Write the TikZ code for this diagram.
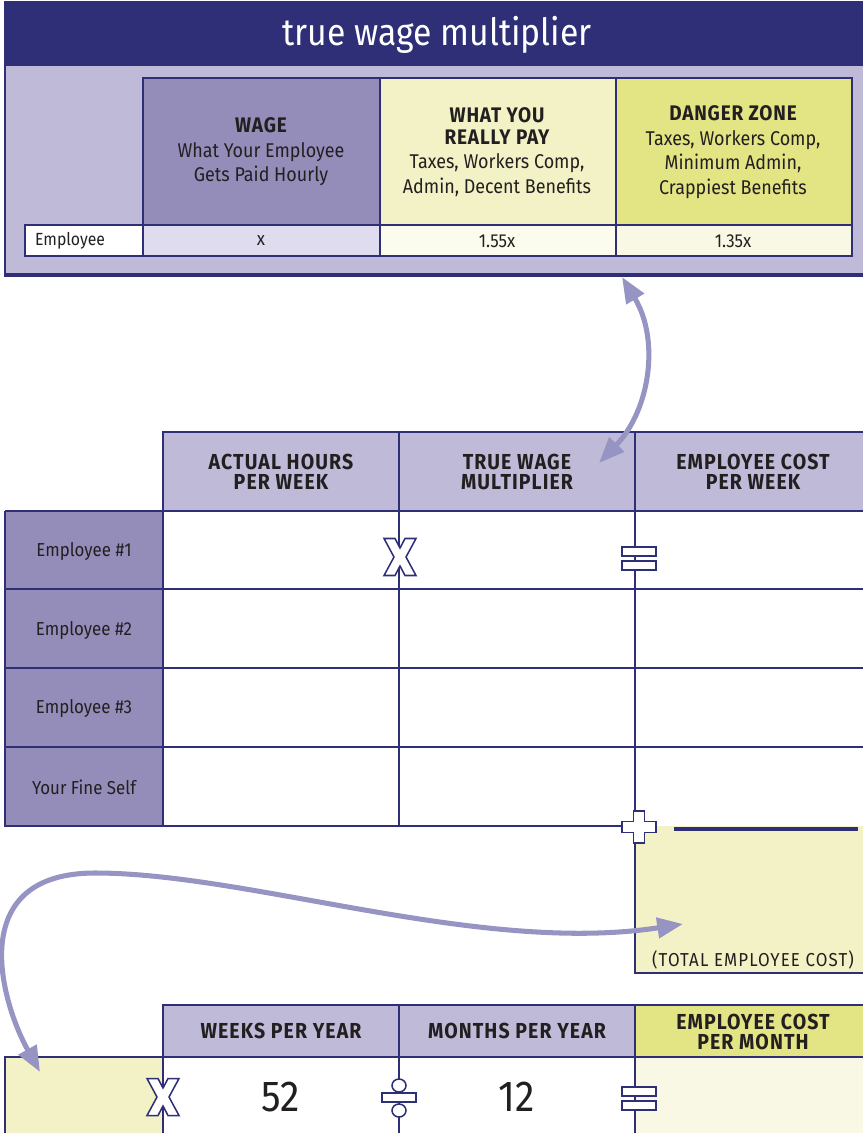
\documentclass[tikz,border=0pt]{standalone}
\usepackage{fontspec}
\setmainfont{Fira Sans}[FakeStretch=0.9]
\usetikzlibrary{arrows.meta}

\definecolor{navy}{RGB}{46,47,119}
\definecolor{lavlight}{RGB}{190,186,216}
\definecolor{purplemid}{RGB}{149,141,185}
\definecolor{lavpale}{RGB}{222,220,238}
\definecolor{yellowlight}{RGB}{242,242,198}
\definecolor{yellowgreen}{RGB}{227,228,132}
\definecolor{cream}{RGB}{252,252,238}
\definecolor{creamy}{RGB}{248,248,228}
\definecolor{ink}{RGB}{35,31,32}
\definecolor{linkc}{RGB}{150,148,194}
\newcommand{\boldhead}{\fontsize{18}{18}\addfontfeature{LetterSpace=4}\selectfont\bfseries}

\begin{document}
\begin{tikzpicture}[x=0.03cm, y=-0.03cm,
	grid/.style={draw=navy, line width=1.6pt},
	opsign/.style={fill=white, draw=navy, line width=1.3pt},
	link/.style={draw=linkc, line width=4.3pt,
		{Triangle[length=22pt,width=17pt]}-{Triangle[length=22pt,width=17pt]}},
	titletxt/.style={text=white, font=\fontsize{32}{34}\selectfont},
	toptxt/.style={text=ink, align=center, font=\fontsize{17}{21}\selectfont},
	headtxt/.style={text=ink, align=center, font=\fontsize{18.5}{17}\addfontfeature{LetterSpace=5}\selectfont\bfseries},
	rowtxt/.style={text=ink, font=\fontsize{16}{16}\selectfont},
	smalltxt/.style={text=ink, font=\fontsize{15}{16}\selectfont},
	numtxt/.style={text=ink, font=\fontsize{37}{38}\selectfont}]
	\useasboundingbox (0,0) rectangle (863,1133);
	%% top box
	\fill[lavlight] (5,4) rectangle (863,275);
	\fill[navy] (4,1) rectangle (863,66);
	\draw[navy, line width=1.8pt] (5,1) -- (5,275);
	\draw[navy, line width=3.4pt] (4,275) -- (863,275);
	\node[titletxt] (title) at (437,35) {true wage multiplier};
	%%
	\filldraw[fill=purplemid, grid] (143,78) rectangle (380,225);
	\filldraw[fill=yellowlight, grid] (380,78) rectangle (616,225);
	\filldraw[fill=yellowgreen, grid] (616,78) rectangle (852,225);
	\filldraw[fill=white, grid] (25,225) rectangle (143,256);
	\filldraw[fill=lavpale, grid] (143,225) rectangle (380,256);
	\filldraw[fill=cream, grid] (380,225) rectangle (616,256);
	\filldraw[fill=creamy, grid] (616,225) rectangle (852,256);
	\node[toptxt] (wagehead) at (261,152) {{\boldhead WAGE}\\What Your Employee\\Gets Paid Hourly};
	\node[toptxt] (realhead) at (497,152) {{\boldhead WHAT YOU}\\[-2pt]{\boldhead REALLY PAY}\\Taxes, Workers Comp,\\Admin, Decent Benefits};
	\node[toptxt] (dangerhead) at (733,152) {{\boldhead DANGER ZONE}\\Taxes, Workers Comp,\\Minimum Admin,\\Crappiest Benefits};
	\node[smalltxt, anchor=west] (emplabel) at (31,241) {Employee};
	\node[rowtxt] (wageval) at (261,241) {x};
	\node[rowtxt] (realval) at (497,241) {1.55x};
	\node[rowtxt] (dangerval) at (733,241) {1.35x};
	%% weekly table
	\fill[lavlight] (163,432) rectangle (863,511);
	\fill[purplemid] (5,511) rectangle (163,826);
	\fill[yellowlight] (635,826) rectangle (863,973);
	\draw[grid] (863,432) -- (163,432) -- (163,826);
	\draw[grid] (5,511) -- (863,511);
	\draw[grid] (5,589) -- (863,589);
	\draw[grid] (5,668) -- (863,668);
	\draw[grid] (5,747) -- (863,747);
	\draw[grid] (5,511) -- (5,826) -- (635,826);
	\draw[grid] (399,432) -- (399,826);
	\draw[grid] (635,432) -- (635,973) -- (863,973);
	\draw[navy, line width=3.4pt] (674,829) -- (858,829);
	\node[headtxt] (hourshead) at (281,472) {ACTUAL HOURS\\PER WEEK};
	\node[headtxt] (multhead) at (517,472) {TRUE WAGE\\MULTIPLIER};
	\node[headtxt] (costhead) at (753,472) {EMPLOYEE COST\\PER WEEK};
	\node[rowtxt] (emp1) at (84,551) {Employee \#1};
	\node[rowtxt] (emp2) at (84,630) {Employee \#2};
	\node[rowtxt] (emp3) at (84,708) {Employee \#3};
	\node[rowtxt] (self) at (84,787) {Your Fine Self};
	\node[rowtxt, font=\fontsize{16}{16}\addfontfeature{LetterSpace=6}\selectfont] (total) at (753,960) {(TOTAL EMPLOYEE COST)};
	%% operators
	\draw[opsign, shift={(400,557)}] (-16,-18.5) -- (-5,-18.5) -- (0,-9) -- (5,-18.5) -- (16,-18.5) -- (6,0) -- (16,18.5) -- (5,18.5) -- (0,9) -- (-5,18.5) -- (-16,18.5) -- (-6,0) -- cycle;
	\draw[opsign] (622,547) rectangle (656,556);
	\draw[opsign] (622,561) rectangle (656,570);
	\draw[opsign, shift={(639,827)}] (-5.5,-16) -- (5.5,-16) -- (5.5,-5.5) -- (17,-5.5) -- (17,5.5) -- (5.5,5.5) -- (5.5,16) -- (-5.5,16) -- (-5.5,5.5) -- (-17,5.5) -- (-17,-5.5) -- (-5.5,-5.5) -- cycle;
	%% monthly table
	\fill[lavlight] (163,1005) rectangle (635,1057);
	\fill[yellowgreen] (635,1005) rectangle (863,1057);
	\fill[yellowlight] (5,1057) rectangle (163,1133);
	\fill[creamy] (635,1057) rectangle (863,1133);
	\draw[grid] (863,1005) -- (163,1005) -- (163,1133);
	\draw[grid] (399,1005) -- (399,1133);
	\draw[grid] (635,1005) -- (635,1133);
	\draw[grid] (5,1133) -- (5,1057) -- (863,1057);
	\node[headtxt] (weekshead) at (281,1031) {WEEKS PER YEAR};
	\node[headtxt] (monthshead) at (517,1031) {MONTHS PER YEAR};
	\node[headtxt] (monthcost) at (753,1032) {EMPLOYEE COST\\PER MONTH};
	\node[numtxt] (weeks) at (281,1097) {52};
	\node[numtxt] (months) at (517,1097) {12};
	\draw[opsign, shift={(163,1097)}] (-16,-18.5) -- (-5,-18.5) -- (0,-9) -- (5,-18.5) -- (16,-18.5) -- (6,0) -- (16,18.5) -- (5,18.5) -- (0,9) -- (-5,18.5) -- (-16,18.5) -- (-6,0) -- cycle;
	\draw[opsign] (382,1093) rectangle (416,1102);
	\draw[opsign] (399,1085.5) ellipse [x radius=7, y radius=6.5];
	\draw[opsign] (399,1110.5) ellipse [x radius=7, y radius=6.5];
	\draw[opsign] (622,1087) rectangle (656,1096);
	\draw[opsign] (622,1101) rectangle (656,1110);
	%% arrows
	\coordinate (topfoot) at (622,277);
	\coordinate (multtip) at (599,463);
	\coordinate (carrytip) at (40,1072);
	\coordinate (totaltip) at (683,924);
	\draw[link] (topfoot) .. controls (660,340) and (650,410) .. (multtip);
	\draw[link] (carrytip) .. controls (0,1000) and (-35,873) .. (95,873) .. controls (250,873) and (480,955) .. (totaltip);
\end{tikzpicture}
\end{document}
